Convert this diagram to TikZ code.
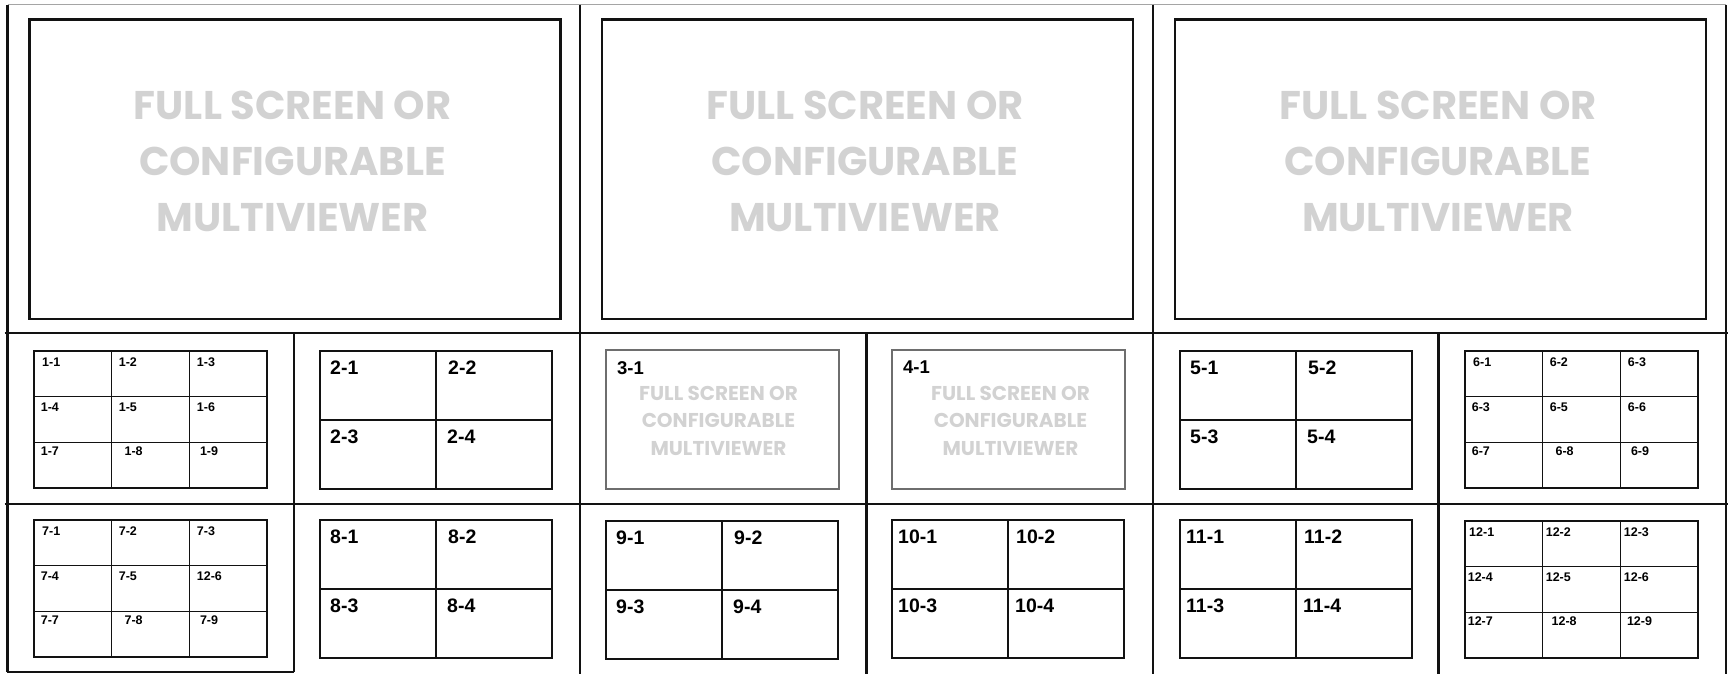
\documentclass[tikz,border=0pt]{standalone}
\usepackage{fontspec}
\setmainfont{Liberation Sans}
\newfontfamily\geofont{Poppins}
\usetikzlibrary{calc}
\definecolor{wm}{RGB}{210,210,210}
\definecolor{edge}{RGB}{18,18,18}
\definecolor{topedge}{RGB}{165,165,165}
\definecolor{boxgrey}{RGB}{110,110,110}
\tikzset{
  frameline/.style={draw=edge, line width=2.1pt},
  topline/.style={draw=topedge, line width=1.6pt},
  bigscreen/.style={draw=edge, line width=2.1pt, inner sep=0pt, outer sep=0pt,
    minimum width=531pt, minimum height=299.5pt, anchor=north west},
  ninebox/.style={draw=edge, line width=2.4pt, inner sep=0pt, outer sep=0pt,
    minimum width=233pt, minimum height=137pt, anchor=north west},
  quadbox/.style={draw=edge, line width=1.8pt, inner sep=0pt, outer sep=0pt,
    minimum width=232pt, minimum height=138pt, anchor=north west},
  greybox/.style={draw=boxgrey, line width=1.2pt, inner sep=0pt, outer sep=0pt,
    minimum width=233pt, minimum height=139pt, anchor=north west},
  thinline/.style={draw=edge, line width=1.2pt},
  quadline/.style={draw=edge, line width=1.8pt},
  smalllab/.style={anchor=north west, inner sep=0pt, font=\bfseries\fontsize{12.5}{14}\selectfont},
  biglab/.style={anchor=north west, inner sep=0pt, font=\bfseries\fontsize{19.5}{22}\selectfont},
  wmbig/.style={text=wm, align=center, inner sep=0pt, font=\geofont\bfseries\fontsize{40}{56}\selectfont},
  wmsmall/.style={text=wm, align=center, inner sep=0pt, font=\geofont\bfseries\fontsize{20}{27.5}\selectfont},
}
\newcommand\ninegrid[3]{%
  \node[ninebox] (#1) at (#2,#3) {};
  \draw[thinline] ($(#1.north west)!1/3!(#1.north east)$) -- ($(#1.south west)!1/3!(#1.south east)$);
  \draw[thinline] ($(#1.north west)!2/3!(#1.north east)$) -- ($(#1.south west)!2/3!(#1.south east)$);
  \draw[thinline] ($(#1.north west)!1/3!(#1.south west)$) -- ($(#1.north east)!1/3!(#1.south east)$);
  \draw[thinline] ($(#1.north west)!2/3!(#1.south west)$) -- ($(#1.north east)!2/3!(#1.south east)$);
}
\newcommand\ninelabels[3]{%
  \foreach \t [count=\i from 0] in {#3}{%
    \pgfmathsetmacro\dx{{8,84.6,162.7,6.6,84.6,162.7,6.6,90.4,165.8}[\i]+#2}%
    \pgfmathsetmacro\dy{{6.7,6.7,6.7,51.7,51.7,51.7,95.7,95.7,95.7}[\i]}%
    \node[smalllab] (#1-l\i) at ($(#1.north west)+(\dx,\dy)$) {\t};
  }}
\newcommand\quadgrid[3]{%
  \node[quadbox] (#1) at (#2,#3) {};
  \draw[quadline] (#1.north) -- (#1.south);
  \draw[quadline] (#1.west) -- (#1.east);
}
\newcommand\quadlabels[3]{%
  \foreach \t [count=\i from 0] in {#3}{%
    \pgfmathsetmacro\dx{{10,128,10,127}[\i]+#2}%
    \pgfmathsetmacro\dy{{10,10,79,79}[\i]}%
    \node[biglab] (#1-l\i) at ($(#1.north west)+(\dx,\dy)$) {\t};
  }}
\begin{document}
\begin{tikzpicture}[x=1pt,y=-1pt]
\useasboundingbox (0,0) rectangle (1731,674);
% outer frame
\draw[topline] (7.5,4.7) -- (1726,4.7);
\draw[frameline] (7.5,4.7) -- (7.5,672);
\draw[frameline] (1726,4.7) -- (1726,674);
\draw[frameline] (580,4.7) -- (580,674);
\draw[frameline] (1153,4.7) -- (1153,674);
\draw[frameline] (4.7,333) -- (1728,333);
\draw[frameline] (4.7,504) -- (1728,504);
\draw[frameline] (294,333) -- (294,672);
\draw[frameline] (866.5,333) -- (866.5,674);
\draw[frameline] (1438.5,333) -- (1438.5,674);
\draw[frameline] (6.5,672) -- (294,672);
% top screens
\node[bigscreen] (s1) at (29.5,19.5) {};
\node[bigscreen] (s2) at (602,19.5) {};
\node[bigscreen] (s3) at (1175,19.5) {};
\foreach \s in {s1,s2,s3}{
  \node[wmbig] (\s-t) at ($(\s.center)+(-2.5,-7.5)$) {FULL SCREEN OR\\CONFIGURABLE\\MULTIVIEWER};
}
% row 2
\ninegrid{g1}{34}{351}
\ninelabels{g1}{0}{1-1,1-2,1-3,1-4,1-5,1-6,1-7,1-8,1-9}
\quadgrid{g2}{320}{351}
\quadlabels{g2}{0}{2-1,2-2,2-3,2-4}
\node[greybox] (g3) at (606,350) {};
\node[biglab, font=\bfseries\fontsize{18.5}{22}\selectfont] (g3-l) at ($(g3.north west)+(11,11.5)$) {3-1};
\node[wmsmall] (g3-t) at ($(g3.center)+(-4,1)$) {FULL SCREEN OR\\CONFIGURABLE\\MULTIVIEWER};
\node[greybox] (g4) at (892,350) {};
\node[biglab, font=\bfseries\fontsize{18.5}{22}\selectfont] (g4-l) at ($(g4.north west)+(11,11)$) {4-1};
\node[wmsmall] (g4-t) at ($(g4.center)+(2,1)$) {FULL SCREEN OR\\CONFIGURABLE\\MULTIVIEWER};
\quadgrid{g5}{1180}{351}
\quadlabels{g5}{0}{5-1,5-2,5-3,5-4}
\ninegrid{g6}{1465}{351}
\ninelabels{g6}{0}{6-1,6-2,6-3,6-3,6-5,6-6,6-7,6-8,6-9}
% row 3
\ninegrid{g7}{34}{520}
\ninelabels{g7}{0}{7-1,7-2,7-3,7-4,7-5,12-6,7-7,7-8,7-9}
\quadgrid{g8}{320}{520}
\quadlabels{g8}{0}{8-1,8-2,8-3,8-4}
\quadgrid{g9}{606}{521}
\quadlabels{g9}{0}{9-1,9-2,9-3,9-4}
\quadgrid{g10}{892}{520}
\quadlabels{g10}{-4}{10-1,10-2,10-3,10-4}
\quadgrid{g11}{1180}{520}
\quadlabels{g11}{-4}{11-1,11-2,11-3,11-4}
\ninegrid{g12}{1465}{521}
\ninelabels{g12}{-4}{12-1,12-2,12-3,12-4,12-5,12-6,12-7,12-8,12-9}
\end{tikzpicture}
\end{document}
